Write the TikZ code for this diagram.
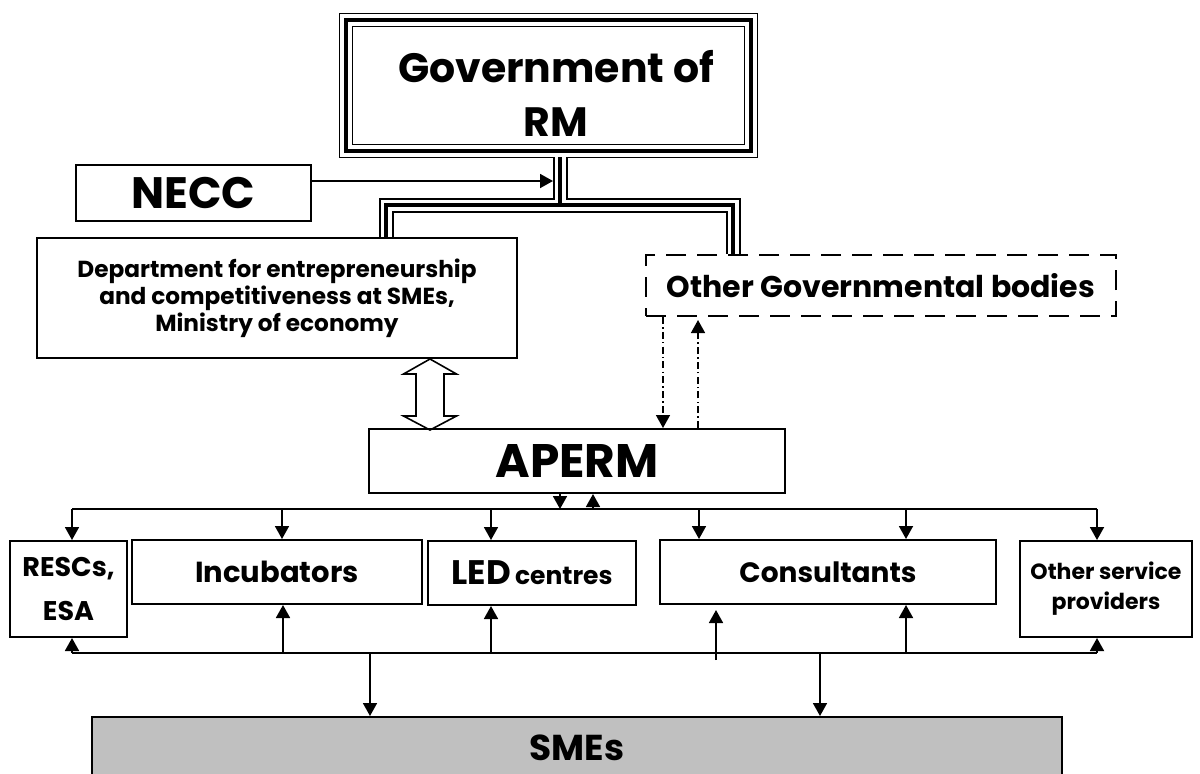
\documentclass[tikz,border=0pt]{standalone}
\usepackage{fontspec}
\setmainfont{Poppins}
\usetikzlibrary{arrows.meta,calc}
\definecolor{smegray}{RGB}{192,192,192}
\begin{document}
\begin{tikzpicture}[x=0.5pt,y=-0.5pt,
  box/.style={draw,line width=1pt,inner sep=0pt,align=center,font=\bfseries},
  tri/.style={-{Triangle[width=7pt,length=6.5pt]},line width=0.9pt},
  ddash/.style={line width=0.75pt,dash pattern=on 3.5pt off 1.6pt on 0.7pt off 1.6pt},
  bus/.style={line width=1pt}
]
\useasboundingbox (0,0) rectangle (1200,773);

% Government box (triple border)
\node[inner sep=0pt,minimum width=208.5pt,minimum height=71.5pt] (gov) at (548.5,85.5) {};
\draw[line width=0.85pt] (gov.north west) rectangle (gov.south east);
\draw[line width=2pt] ($(gov.north west)+(6.7,6.7)$) rectangle ($(gov.south east)+(-6.7,-6.7)$);
\draw[line width=0.8pt] ($(gov.north west)+(13,13)$) rectangle ($(gov.south east)+(-13,-13)$);
\node[align=center,inner sep=0pt,font=\bfseries\fontsize{20.5}{27}\selectfont] (govtext) at (556,93) {Government of\\RM};

% other nodes
\node[box,minimum width=117.5pt,minimum height=28pt,font=\bfseries\fontsize{22}{24}\selectfont] (necc) at (193.5,193) {NECC};
\node[box,minimum width=240pt,minimum height=60pt,font=\bfseries\fontsize{11.6}{13.5}\selectfont] (dept) at (277,298) {Department for entrepreneurship\\and competitiveness at SMEs,\\Ministry of economy};
\node[box,dash pattern=on 10pt off 5.5pt,minimum width=235pt,minimum height=30.5pt,font=\bfseries\fontsize{15}{17}\selectfont] (ogb) at (881,285.5) {Other Governmental bodies};
\node[box,minimum width=208pt,minimum height=32pt,font=\bfseries\fontsize{23.5}{26}\selectfont] (aperm) at (577,461) {APERM};

\node[box,minimum width=58.5pt,minimum height=48pt,font=\bfseries\fontsize{13.5}{22}\selectfont] (resc) at (68.5,589) {RESCs,\\ESA};
\node[box,minimum width=145pt,minimum height=32pt,font=\bfseries\fontsize{14.5}{19}\selectfont] (incub) at (277,572) {Incubators};
\node[box,minimum width=104pt,minimum height=32pt] (led) at (532,573) {{\fontsize{17}{19}\selectfont LED} {\fontsize{12.5}{14}\selectfont centres}};
\node[box,minimum width=168pt,minimum height=32pt,font=\bfseries\fontsize{14}{19}\selectfont] (cons) at (828,572) {Consultants};
\node[box,minimum width=86pt,minimum height=48pt,font=\bfseries\fontsize{11}{15}\selectfont] (osp) at (1106,589) {Other service\\providers};
\node[box,fill=smegray,minimum width=485.25pt,minimum height=33pt] (sme) at (576.75,750) {};
\node[inner sep=0pt,font=\bfseries\fontsize{18}{20}\selectfont] (smetext) at (576.75,748) {SMEs};

% triple connector
\coordinate (jl) at (386,205);
\coordinate (jr) at (733,205);
\coordinate (jm) at (560,205);
\foreach \w/\c in {7.5pt/black,5.5pt/white,1.75pt/black}{
  \draw[line width=\w,draw=\c,line cap=butt,line join=miter] (dept.north -| jl) -- (jl) -- (jr) -- (ogb.north -| jr);
  \draw[line width=\w,draw=\c,line cap=butt] (gov.south -| jm) -- (jm);
}

% NECC arrow
\coordinate (nt) at (553,181);
\draw[tri] (necc.east |- nt) -- (nt);

% hollow double arrow
\coordinate (ha) at (430,0);
\draw[line width=0.8pt,line join=miter] (dept.south -| ha) -- ++(26.5,15) -- ++(-12.5,0) -- ++(0,42) -- ++(12.5,0) -- ++(-26.5,14) -- ++(-26.5,-14) -- ++(12.5,0) -- ++(0,-42) -- ++(-12.5,0) -- cycle;

% dash-dot arrows
\coordinate (dda) at (663,317);
\coordinate (ddb) at (698,320);
\draw[ddash,-{Triangle[width=7pt,length=6.5pt]}] (dda) -- (aperm.north -| dda);
\draw[ddash,-{Triangle[width=7pt,length=6.5pt]}] (aperm.north -| ddb) -- (ddb);

% APERM to top bus
\coordinate (a1) at (560,509);
\coordinate (a2) at (593,509);
\draw[tri] (aperm.south -| a1) -- (a1);
\draw[tri] (a2) -- (aperm.south -| a2);

% top bus
\coordinate (t1) at (72,509);
\coordinate (t2) at (282,509);
\coordinate (t3) at (491,509);
\coordinate (t4) at (699,509);
\coordinate (t5) at (906,509);
\coordinate (t6) at (1097,509);
\draw[bus] (t1) -- (t6);
\draw[tri] (t1) -- (resc.north -| t1);
\draw[tri] (t2) -- (incub.north -| t2);
\draw[tri] (t3) -- (led.north -| t3);
\draw[tri] (t4) -- (cons.north -| t4);
\draw[tri] (t5) -- (cons.north -| t5);
\draw[tri] (t6) -- (osp.north -| t6);

% bottom bus
\coordinate (b1) at (72,653);
\coordinate (b2) at (283,653);
\coordinate (b3) at (491,653);
\coordinate (b5) at (906,653);
\coordinate (b6) at (1097,653);
\coordinate (c4a) at (716,660);
\coordinate (c4b) at (716,610);
\draw[bus] (b1) -- (b6);
\draw[tri] (b1) -- (resc.south -| b1);
\draw[tri] (b2) -- (incub.south -| b2);
\draw[tri] (b3) -- (led.south -| b3);
\draw[tri] (c4a) -- (c4b);
\draw[tri] (b5) -- (cons.south -| b5);
\draw[tri] (b6) -- (osp.south -| b6);

% to SMEs
\coordinate (s1) at (370,653);
\coordinate (s2) at (820,653);
\draw[tri] (s1) -- (sme.north -| s1);
\draw[tri] (s2) -- (sme.north -| s2);
\end{tikzpicture}
\end{document}
